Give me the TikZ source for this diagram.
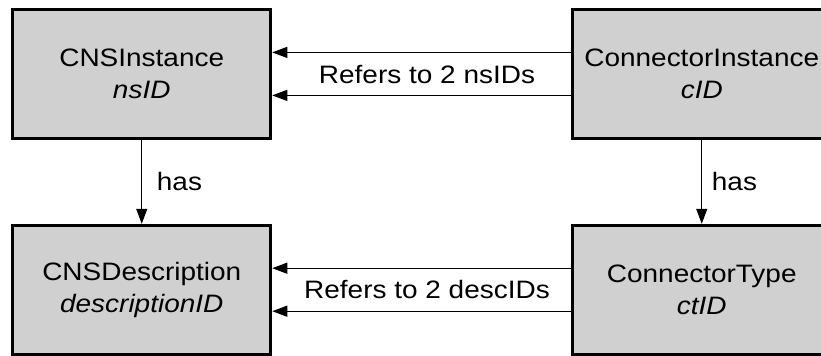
\documentclass[tikz,border=0pt]{standalone}
\usepackage{fontspec}
\setmainfont[FakeStretch=1.11]{Liberation Sans}
\usetikzlibrary{arrows.meta}
\definecolor{boxgray}{RGB}{208,208,208}
\tikzset{
	entity/.style={draw, line width=1.5pt, fill=boxgray, minimum width=129pt, minimum height=64.4pt, inner sep=0pt, align=center, font=\fontsize{12.6}{16}\selectfont},
	rel/.style={-{Triangle[length=7.5pt,width=5.5pt]}, line width=0.5pt},
	lbl/.style={font=\fontsize{12.6}{14}\selectfont}
}
\begin{document}
\begin{tikzpicture}[x=0.5pt,y=-0.5pt]
	\useasboundingbox (0,0) rectangle (821,356);
	%entities
	\node[entity] (inst) at (141.75, 73.9) {CNSInstance\\\textit{nsID}};
	\node[entity] (cinst) at (701.75, 73.9) {ConnectorInstance\\\textit{cID}};
	\node[entity] (desc) at (141.75, 289.7) {CNSDescription\\\textit{descriptionID}};
	\node[entity] (ctype) at (701.75, 289.7) {ConnectorType\\\textit{ctID}};
	
	%references
	\foreach \s in {10.75pt, -10.75pt}{
		\draw[rel] ([yshift=\s]cinst.west) -- ([yshift=\s]inst.east);
		\draw[rel] ([yshift=\s]ctype.west) -- ([yshift=\s]desc.east);
	}
	\node[lbl] (nsref) at (427, 74.5) {Refers to 2 nsIDs};
	\node[lbl] (descref) at (427, 290) {Refers to 2 descIDs};
	
	%has
	\draw[rel] (inst.south) -- node[lbl, right, xshift=4pt] (hasl) {has} (desc.north);
	\draw[rel] (cinst.south) -- node[lbl, right, xshift=1.5pt] (hasr) {has} (ctype.north);
\end{tikzpicture}
\end{document}
